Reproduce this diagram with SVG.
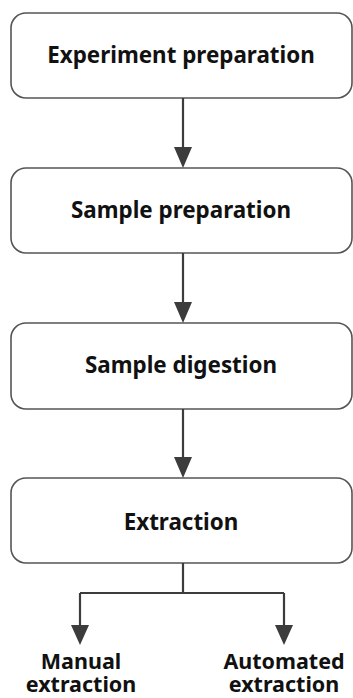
<svg xmlns="http://www.w3.org/2000/svg" width="353" height="698" viewBox="0 0 353 698">
<style>
.box{fill:#fff;stroke:#555;stroke-width:1.6}
.t{font-family:"Noto Sans","Open Sans","DejaVu Sans",sans-serif;font-weight:700;font-size:22.4px;fill:#111;text-anchor:middle}
.lb{font-size:21.5px}
.ln{fill:none;stroke:#3c3c3c;stroke-width:2.2}
.hd{fill:#3c3c3c}
</style>
<rect width="353" height="698" fill="#fff"/>
<g id="n1"><rect class="box" x="11" y="13" width="341" height="85" rx="15"/><text class="t" x="181" y="63">Experiment preparation</text></g>
<g id="n2"><rect class="box" x="11" y="168" width="341" height="85" rx="15"/><text class="t" x="181" y="218">Sample preparation</text></g>
<g id="n3"><rect class="box" x="11" y="323" width="341" height="86" rx="15"/><text class="t" x="181" y="373">Sample digestion</text></g>
<g id="n4"><rect class="box" x="11" y="478" width="341" height="85" rx="15"/><text class="t" x="181" y="530">Extraction</text></g>
<g id="n5"><text class="t lb" x="81" y="669">Manual<tspan x="81" dy="23">extraction</tspan></text></g>
<g id="n6"><text class="t lb" x="284" y="669">Automated<tspan x="284" dy="23">extraction</tspan></text></g>
<g id="connectors">
<path class="ln" d="M183 98V150M183 253V305M183 409V460M183 563V593M80 593H284M80 593V628M284 593V628"/>
<path class="hd" d="M174 147H192L183 168ZM174 302H192L183 323ZM174 457H192L183 478ZM71 625H89L80 645ZM275 625H293L284 645Z"/>
</g>
</svg>
